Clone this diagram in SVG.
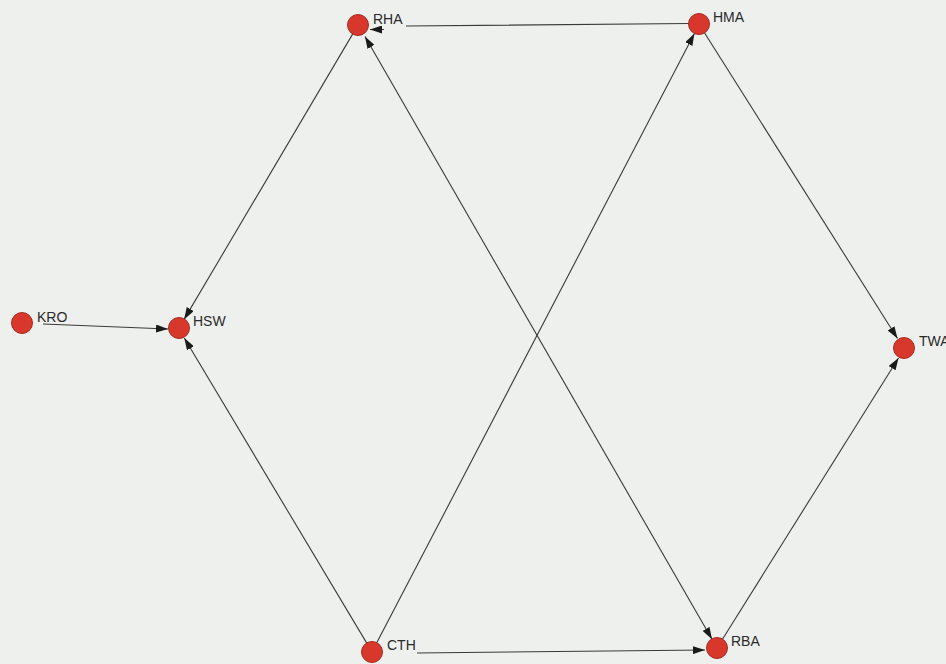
<svg xmlns="http://www.w3.org/2000/svg" width="946" height="664" viewBox="0 0 946 664">
<defs>
<marker id="arr" viewBox="0 0 12 8" refX="12" refY="4" markerWidth="12" markerHeight="8" markerUnits="userSpaceOnUse" orient="auto-start-reverse">
<path d="M0,0 L12,4 L0,8 z" fill="#1a1a1a"/>
</marker>
</defs>
<style>
.edge{stroke:#3a3a3a;stroke-width:1.1;fill:none}
.node circle{fill:#d8382b;stroke:#a82a20;stroke-width:1}
.node text{font-family:"Liberation Sans",Arial,sans-serif;font-size:14px;fill:#2a2a2a}
</style>
<rect x="0" y="0" width="946" height="664" fill="#eef0ee"/>
<g id="connectors">
<path class="edge" d="M689,23.5 L406,26 M384,29.5 L370,29.5" marker-end="url(#arr)"/>
<path class="edge" d="M352.9,33.6 L184.1,319.4" marker-end="url(#arr)"/>
<path class="edge" d="M365,36.5 L712,639.3" marker-start="url(#arr)" marker-end="url(#arr)"/>
<path class="edge" d="M376.6,643.1 L694.4,33.5" marker-end="url(#arr)"/>
<path class="edge" d="M366.9,643.4 L184.3,338" marker-end="url(#arr)"/>
<path class="edge" d="M417,653 L705,650" marker-end="url(#arr)"/>
<path class="edge" d="M704.3,32.5 L897.5,338.5" marker-end="url(#arr)"/>
<path class="edge" d="M722.3,639.5 L898.5,358" marker-end="url(#arr)"/>
<path class="edge" d="M43,324 L168,329" marker-end="url(#arr)"/>
</g>
<g id="node-RHA" class="node"><circle cx="358" cy="25" r="10.5"/><text x="373" y="24">RHA</text></g>
<g id="node-HMA" class="node"><circle cx="699" cy="24" r="10.5"/><text x="713" y="22">HMA</text></g>
<g id="node-KRO" class="node"><circle cx="22" cy="323" r="10.5"/><text x="37" y="322">KRO</text></g>
<g id="node-HSW" class="node"><circle cx="179" cy="328" r="10.5"/><text x="193" y="326">HSW</text></g>
<g id="node-TWA" class="node"><circle cx="904" cy="348" r="10.5"/><text x="919" y="346">TWA</text></g>
<g id="node-CTH" class="node"><circle cx="372" cy="652" r="10.5"/><text x="387" y="650">CTH</text></g>
<g id="node-RBA" class="node"><circle cx="717" cy="648" r="10.5"/><text x="731" y="646">RBA</text></g>
</svg>
